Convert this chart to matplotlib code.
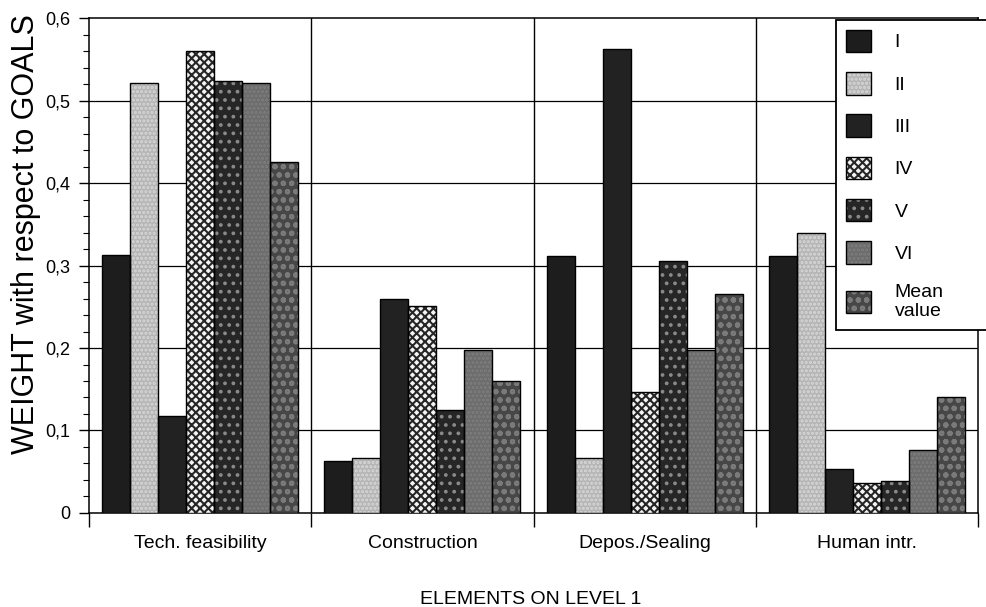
import matplotlib
matplotlib.use("Agg")
import matplotlib.pyplot as plt
import numpy as np
from matplotlib.patches import Patch
from matplotlib.legend_handler import HandlerTuple
from matplotlib.ticker import MultipleLocator, FixedLocator, NullFormatter, FuncFormatter

plt.rcParams['font.family'] = ['Liberation Sans', 'DejaVu Sans']
plt.rcParams['hatch.linewidth'] = 1.5

categories = ["Tech. feasibility", "Construction", "Depos./Sealing", "Human intr."]
series_names = ["I", "II", "III", "IV", "V", "VI", "Mean\nvalue"]

s_I = [0.313, 0.063, 0.311, 0.311]
s_II = [0.522, 0.067, 0.067, 0.340]
s_III = [0.117, 0.260, 0.563, 0.053]
s_IV = [0.560, 0.251, 0.147, 0.036]
s_V = [0.524, 0.125, 0.306, 0.039]
s_VI = [0.521, 0.198, 0.198, 0.076]
s_mean = [0.426, 0.160, 0.265, 0.140]
series = [s_I, s_II, s_III, s_IV, s_V, s_VI, s_mean]

yticks = [0.0, 0.1, 0.2, 0.3, 0.4, 0.5, 0.6]

# fill colour, hatch pattern, hatch colour for each series
styles = [
    ("#1d1d1d", None, "#1d1d1d"),
    ("#b5b5b5", "....", "#d8d8d8"),
    ("#222222", None, "#222222"),
    ("#f4f4f4", "xxxx", "#262626"),
    ("#262626", "..", "#8a8a8a"),
    ("#6c6c6c", "....", "#7e7e7e"),
    ("#474747", "oo", "#7a7a7a"),
]

fig = plt.figure(figsize=(9.86, 6.07), dpi=100)
ax = fig.add_axes([0.0903, 0.155, 0.9017, 0.815])

n = len(series)
width = 0.126
x = np.arange(len(categories))
for i, (vals, (fc, hatch, hc)) in enumerate(zip(series, styles)):
    pos = x + (i - (n - 1) / 2) * width
    ax.bar(pos, vals, width, color=fc, edgecolor=hc, linewidth=0, hatch=hatch, zorder=3)
    ax.bar(pos, vals, width, fill=False, edgecolor="black", linewidth=1.0, zorder=4)

ax.set_xlim(-0.5, len(categories) - 0.5)
ax.set_ylim(0, 0.6)

# grid lines
for yv in yticks[1:-1]:
    ax.axhline(yv, color="black", linewidth=0.9, zorder=1)
for b in np.arange(0.5, len(categories) - 0.5, 1.0):
    ax.axvline(b, color="black", linewidth=1.0, zorder=1)

for sp in ax.spines.values():
    sp.set_linewidth(1.1)

ax.yaxis.set_major_locator(FixedLocator(yticks))
ax.yaxis.set_minor_locator(MultipleLocator(0.02))
ax.yaxis.set_major_formatter(FuncFormatter(lambda v, p: "0" if v == 0 else f"{v:.1f}".replace(".", ",")))
ax.tick_params(axis="y", which="major", direction="out", length=7.5, width=1, labelsize=13, pad=6)
ax.tick_params(axis="y", which="minor", direction="out", length=4, width=0.8)

ax.xaxis.set_major_locator(FixedLocator(np.arange(-0.5, len(categories), 1.0)))
ax.xaxis.set_major_formatter(NullFormatter())
ax.xaxis.set_minor_locator(FixedLocator(x))
ax.set_xticklabels(categories, minor=True)
ax.tick_params(axis="x", which="major", direction="out", length=10, width=1)
ax.tick_params(axis="x", which="minor", length=0, labelsize=14, pad=16)

ax.set_ylabel("WEIGHT with respect to GOALS", fontsize=22, labelpad=2)
ax.yaxis.set_label_coords(-0.054, 0.563)
fig.text(0.538, 1 - 600 / 607, "ELEMENTS ON LEVEL 1", ha="center", va="center", fontsize=14)

handles = []
for fc, hatch, hc in styles:
    h1 = Patch(facecolor=fc, edgecolor=hc, linewidth=0, hatch=hatch)
    h2 = Patch(fill=False, edgecolor="black", linewidth=1.0)
    handles.append((h1, h2))

leg = fig.legend(handles, series_names, handler_map={tuple: HandlerTuple(ndivide=1, pad=0)},
                 loc="upper left", bbox_to_anchor=(0.848, 0.46, 0.16, 0.507), mode="expand",
                 fontsize=14, handlelength=1.3, handleheight=1.4, handletextpad=1.2,
                 labelspacing=1.02, borderpad=0.5, fancybox=False, framealpha=1,
                 edgecolor="black", borderaxespad=0)
leg.get_frame().set_linewidth(1.3)
leg.set_zorder(10)

fig.savefig("out.png", dpi=100)
